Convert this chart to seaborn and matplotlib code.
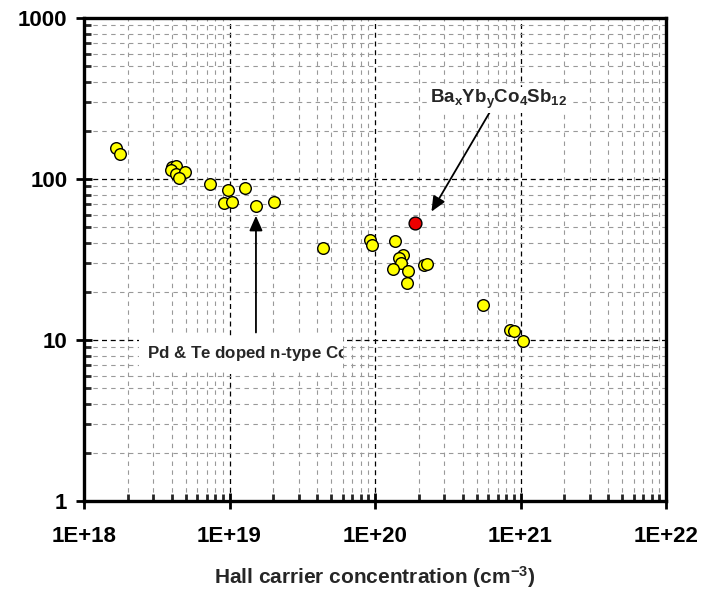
import matplotlib
matplotlib.use("Agg")
import matplotlib.pyplot as plt
import seaborn as sns
import pandas as pd
from matplotlib.ticker import LogLocator, NullFormatter, FixedLocator, FixedFormatter
from matplotlib.transforms import Bbox, TransformedBbox

# Data: Pd & Te doped n-type CoSb3 (yellow) and BaxYbyCo4Sb12 (red)
carrier_pd_te = [1.66e18, 1.77e18, 4.0e18, 4.27e18, 3.96e18, 4.29e18, 4.94e18, 4.5e18,
                 7.3e18, 9.7e18, 1.28e19, 9.1e18, 1.045e19, 1.53e19, 2.01e19,
                 4.39e19, 9.29e19, 9.49e19, 1.38e20, 1.55e20, 1.47e20, 1.52e20, 1.34e20,
                 1.69e20, 1.67e20, 2.18e20, 2.29e20, 5.52e20, 8.47e20, 8.98e20, 1.04e21]
value_pd_te = [155, 143, 119, 120.5, 113.7, 108, 110, 101,
               93, 85, 87.5, 70.6, 72.3, 68.3, 71.7,
               37.3, 41.6, 38.9, 41.2, 33.6, 32.2, 29.9, 27.6,
               26.9, 22.5, 29.4, 29.6, 16.4, 11.6, 11.3, 9.9]
carrier_baYb = [1.89e20]
value_baYb = [53.5]

x_ticks = [1e18, 1e19, 1e20, 1e21, 1e22]
x_ticklabels = ["1E+18", "1E+19", "1E+20", "1E+21", "1E+22"]
y_ticks = [1, 10, 100, 1000]
y_ticklabels = ["1", "10", "100", "1000"]

sns.set_style("white")
plt.rcParams["font.family"] = ["Liberation Sans", "DejaVu Sans"]
plt.rcParams["font.weight"] = "bold"
plt.rcParams["mathtext.fontset"] = "custom"
plt.rcParams["mathtext.rm"] = "Liberation Sans:bold"
plt.rcParams["mathtext.bf"] = "Liberation Sans:bold"
plt.rcParams["mathtext.default"] = "bf"

fig = plt.figure(figsize=(7.21, 5.93), dpi=100)
ax = fig.add_axes([84/721, 92/593, (666-84)/721, (501-18)/593])

df1 = pd.DataFrame({"n": carrier_pd_te, "v": value_pd_te})
df2 = pd.DataFrame({"n": carrier_baYb, "v": value_baYb})

ax.set_xscale("log")
ax.set_yscale("log")
ax.set_xlim(1e18, 1e22)
ax.set_ylim(1, 1000)

sns.scatterplot(data=df1, x="n", y="v", ax=ax, color="#FFFF00", edgecolor="black",
                linewidth=1.0, s=70, zorder=5, legend=False)
sns.scatterplot(data=df2, x="n", y="v", ax=ax, color="#EE0000", edgecolor="black",
                linewidth=1.0, s=85, zorder=5, legend=False)

ax.xaxis.set_major_locator(FixedLocator(x_ticks))
ax.xaxis.set_major_formatter(FixedFormatter(x_ticklabels))
ax.yaxis.set_major_locator(FixedLocator(y_ticks))
ax.yaxis.set_major_formatter(FixedFormatter(y_ticklabels))
ax.xaxis.set_minor_locator(LogLocator(base=10, subs=range(2, 10), numticks=20))
ax.yaxis.set_minor_locator(LogLocator(base=10, subs=range(2, 10), numticks=20))
ax.xaxis.set_minor_formatter(NullFormatter())
ax.yaxis.set_minor_formatter(NullFormatter())

ax.grid(which="major", color="black", linestyle=(0, (4, 3)), linewidth=0.9, zorder=0)
ax.grid(which="minor", color="#999999", linestyle=(0, (4, 4)), linewidth=0.8, zorder=0)
ax.set_axisbelow(True)

for sp in ax.spines.values():
    sp.set_linewidth(2.4)
    sp.set_color("black")

ax.tick_params(axis="x", which="major", direction="inout", length=12, width=2,
               pad=12, labelsize=16, colors="black", bottom=True)
ax.tick_params(axis="y", which="major", direction="inout", length=12, width=2,
               pad=6, labelsize=16, colors="black", left=True)
ax.tick_params(which="minor", direction="in", length=5, width=2, bottom=True, left=True)
for lab in ax.get_xticklabels() + ax.get_yticklabels():
    lab.set_fontweight("bold")

ax.set_xlabel("Hall carrier concentration (cm$^{-3}$)", fontsize=15,
              fontweight="bold", labelpad=12)
ax.set_ylabel("")

# Annotations
ax.annotate("", xy=(1.52e19, 61.5), xytext=(1.52e19, 10.7),
            arrowprops=dict(arrowstyle="-|>,head_length=0.9,head_width=0.4",
                            color="black", lw=1.3), zorder=6)
ax.annotate("", xy=(2.39e20, 60.6), xytext=(6.27e20, 268),
            arrowprops=dict(arrowstyle="-|>,head_length=0.9,head_width=0.4",
                            color="black", lw=1.3), zorder=6)

ax.text(7.1e20, 310, "Ba$_{x}$Yb$_{y}$Co$_{4}$Sb$_{12}$",
        ha="center", va="center", fontsize=13.5, fontweight="bold", zorder=7,
        bbox=dict(facecolor="white", edgecolor="none", pad=1))

t = ax.text(2.71e18, 8.3, "Pd & Te doped n-type CoSb$_{3}$",
            ha="left", va="center", fontsize=12.2, fontweight="bold", zorder=7,
            bbox=dict(facecolor="white", edgecolor="none", pad=6))
clip = TransformedBbox(Bbox.from_extents(138/721, (593-372)/593, 343/721, (593-336)/593),
                       fig.transFigure)
t.set_clip_on(True)
t.set_clip_box(clip)

fig.savefig("out.png", dpi=100)
